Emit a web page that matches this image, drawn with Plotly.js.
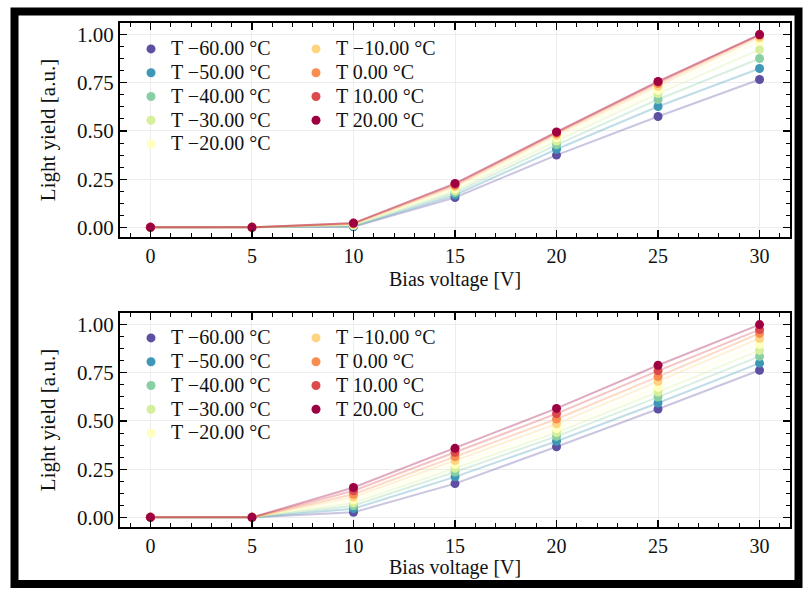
<!DOCTYPE html>
<html><head><meta charset="utf-8">
<script src="https://cdn.plot.ly/plotly-3.0.1.min.js"></script>
<style>html,body{margin:0;padding:0;background:#fff;overflow:hidden;} #chart{width:807px;height:591px;}</style>
</head><body><div id="chart"></div>
<script>
// ---- data ----
const voltages = [0, 5, 10, 15, 20, 25, 30];
const tempLabels = ['T \u221260.00 \u00B0C','T \u221250.00 \u00B0C','T \u221240.00 \u00B0C','T \u221230.00 \u00B0C','T \u221220.00 \u00B0C','T \u221210.00 \u00B0C','T 0.00 \u00B0C','T 10.00 \u00B0C','T 20.00 \u00B0C'];
const xTitle = 'Bias voltage [V]';
const yTitle = 'Light yield [a.u.]';

// top panel
const topM60 = [0, 0, 0.003, 0.155, 0.375, 0.575, 0.767];
const topM50 = [0, 0, 0.005, 0.168, 0.405, 0.627, 0.824];
const topM40 = [0, 0, 0.008, 0.180, 0.428, 0.663, 0.876];
const topM30 = [0, 0, 0.011, 0.190, 0.448, 0.694, 0.922];
const topM20 = [0, 0, 0.014, 0.200, 0.465, 0.711, 0.965];
const topM10 = [0, 0, 0.017, 0.210, 0.478, 0.732, 0.985];
const topP0  = [0, 0, 0.019, 0.218, 0.487, 0.746, 0.995];
const topP10 = [0, 0, 0.021, 0.224, 0.492, 0.754, 1.000];
const topP20 = [0, 0, 0.022, 0.228, 0.495, 0.757, 1.000];

// bottom panel
const botM60 = [0, 0, 0.026, 0.175, 0.366, 0.562, 0.763];
const botM50 = [0, 0, 0.045, 0.210, 0.395, 0.593, 0.800];
const botM40 = [0, 0, 0.060, 0.235, 0.420, 0.624, 0.835];
const botM30 = [0, 0, 0.075, 0.255, 0.440, 0.650, 0.866];
const botM20 = [0, 0, 0.090, 0.275, 0.460, 0.675, 0.897];
const botM10 = [0, 0, 0.105, 0.295, 0.485, 0.705, 0.928];
const botP0  = [0, 0, 0.120, 0.315, 0.510, 0.730, 0.954];
const botP10 = [0, 0, 0.138, 0.338, 0.538, 0.760, 0.974];
const botP20 = [0, 0, 0.155, 0.358, 0.565, 0.789, 1.000];

const errSize = [0.006, 0.006, 0.006, 0.006, 0.006, 0.006, 0.006];

const topSeries = [topM60, topM50, topM40, topM30, topM20, topM10, topP0, topP10, topP20];
const botSeries = [botM60, botM50, botM40, botM30, botM20, botM10, botP0, botP10, botP20];

// ---- style ----
const colors = ['#5e4fa2','#3f97b7','#88cfa4','#d7ef9b','#ffffbf','#fed481','#f88d52','#dd4a4c','#9e0142'];
function rgba(hex, a){const r=parseInt(hex.slice(1,3),16),g=parseInt(hex.slice(3,5),16),b=parseInt(hex.slice(5,7),16);return `rgba(${r},${g},${b},${a})`;}
const FONT = 'Liberation Serif, Times New Roman, serif';

const traces = [];
function addPanel(series, xa, ya, legA, legB){
  series.forEach((vals,i)=>{
    traces.push({x: voltages, y: vals, xaxis: xa, yaxis: ya, mode:'lines',
      line:{color: rgba(colors[i],0.33), width:2}, showlegend:false, hoverinfo:'skip'});
  });
  series.forEach((vals,i)=>{
    traces.push({x: voltages, y: vals, xaxis: xa, yaxis: ya, mode:'markers', name: tempLabels[i],
      legend: i<5 ? legA : legB,
      marker:{color: colors[i], size:9, line:{width:0}},
      error_y:{type:'data', array: errSize, visible:true, color: colors[i], thickness:1.5, width:3}});
  });
}
addPanel(topSeries, 'x', 'y', 'legend', 'legend2');
addPanel(botSeries, 'x2', 'y2', 'legend3', 'legend4');

function xax(domain, anchor){
  return {domain: domain, anchor: anchor, range:[-1.5,31.5], tick0:0, dtick:5,
    ticks:'inside', ticklen:7, tickwidth:1.2, tickcolor:'#000', mirror:'allticks',
    showline:true, linecolor:'#000', linewidth:2, showgrid:true, gridcolor:'#ededed', gridwidth:1,
    zeroline:false, minor:{dtick:1, tick0:0, ticks:'inside', ticklen:4, tickcolor:'#000', tickwidth:1, showgrid:false},
    tickfont:{family:FONT, size:20, color:'#111'}};
}
function yax(domain, anchor){
  return {domain: domain, anchor: anchor, range:[-0.05,1.06], tick0:0, dtick:0.25, tickformat:'.2f',
    ticks:'inside', ticklen:7, tickwidth:1.2, tickcolor:'#000', mirror:'allticks',
    showline:true, linecolor:'#000', linewidth:2, showgrid:true, gridcolor:'#ededed', gridwidth:1,
    zeroline:false, minor:{dtick:0.0625, tick0:0, ticks:'inside', ticklen:4, tickcolor:'#000', tickwidth:1, showgrid:false},
    tickfont:{family:FONT, size:21, color:'#111'},
    title:{text: yTitle, font:{family:FONT, size:21, color:'#111'}, standoff:16}};
}
function leg(x, y){
  return {x:x, y:y, xanchor:'left', yanchor:'top', xref:'paper', yref:'paper',
    bgcolor:'rgba(0,0,0,0)', borderwidth:0, font:{family:FONT, size:16, color:'#111'}, tracegroupgap:0};
}
function xTitleAnn(yPix){
  return {text: xTitle, xref:'paper', yref:'paper', x:455/807, y:1-yPix/591, xanchor:'center', yanchor:'middle',
    showarrow:false, borderpad:0, font:{family:FONT, size:20, color:'#111'}};
}

const layout = {
  width:807, height:591, margin:{l:0,r:0,t:0,b:0},
  paper_bgcolor:'#fff', plot_bgcolor:'#fff', showlegend:true,
  xaxis: xax([120/807, 790/807], 'y'),
  yaxis: yax([1-237/591, 1-23/591], 'x'),
  xaxis2: xax([120/807, 790/807], 'y2'),
  yaxis2: yax([1-527/591, 1-313/591], 'x2'),
  legend: leg(131/807, 1-32/591),
  legend2: leg(296/807, 1-32/591),
  legend3: leg(131/807, 1-321/591),
  legend4: leg(296/807, 1-321/591),
  annotations:[xTitleAnn(280), xTitleAnn(567)],
  shapes:[{type:'rect', xref:'paper', yref:'paper', x0:14.5/807, x1:798.5/807, y0:7/591, y1:1-11.5/591,
    line:{color:'#000', width:8}, fillcolor:'rgba(0,0,0,0)', layer:'above'}]
};

const gdiv = document.getElementById('chart');
function enlargeLegendText(){
  gdiv.querySelectorAll('text.legendtext, g[class^="legend"] text').forEach(t=>{
    t.style.fontSize = '20px';
    t.querySelectorAll('tspan').forEach(s=>{ s.style.fontSize = '20px'; });
  });
  gdiv.querySelectorAll('g[class^="legend"] .scrollbox').forEach(s=>{ s.removeAttribute('clip-path'); });
}
Plotly.newPlot(gdiv, traces, layout, {staticPlot:true, displayModeBar:false}).then(()=>{
  enlargeLegendText();
  setTimeout(enlargeLegendText, 0);
  setTimeout(enlargeLegendText, 50);
});
gdiv.on && gdiv.on('plotly_afterplot', enlargeLegendText);
</script></body></html>
